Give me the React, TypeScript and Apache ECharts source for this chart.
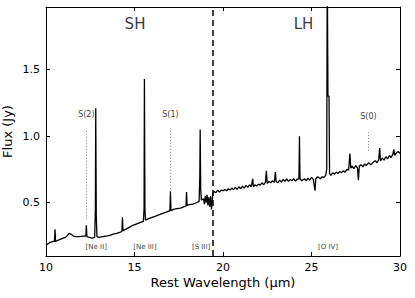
import React, { useEffect, useRef } from "react";
import * as echarts from "echarts";

const wavelength = [
  10.0, 10.2, 10.4, 10.48, 10.51, 10.54, 10.7, 10.9, 11.1, 11.25, 11.3, 11.4, 11.55, 11.7, 11.9, 12.1, 12.25, 12.28, 12.31,
  12.45, 12.6, 12.75, 12.79, 12.81, 12.84, 12.88, 13.0, 13.2, 13.4, 13.6, 13.8, 14.0, 14.2, 14.29, 14.32, 14.35, 14.5,
  14.7, 14.9, 15.1, 15.3, 15.5, 15.54, 15.56, 15.59, 15.62, 15.8, 16.0, 16.2, 16.4, 16.6, 16.8, 17.0, 17.03, 17.06,
  17.2, 17.4, 17.6, 17.8, 17.91, 17.94, 17.97, 18.1, 18.3, 18.5, 18.65, 18.69, 18.71, 18.74, 18.78, 18.9, 18.95, 19.0,
  19.05, 19.1, 19.15, 19.2, 19.25, 19.3, 19.35, 19.4,
  19.42, 19.5, 19.6, 19.7, 19.8, 19.9, 20.0, 20.1, 20.2, 20.3, 20.4, 20.5, 20.6, 20.7, 20.8, 20.9, 21.0, 21.1, 21.2,
  21.3, 21.4, 21.5, 21.6, 21.68, 21.72, 21.8, 21.9, 22.0, 22.1, 22.2, 22.3, 22.4, 22.45, 22.5, 22.6, 22.7, 22.8, 22.9,
  22.96, 23.0, 23.1, 23.2, 23.3, 23.4, 23.5, 23.6, 23.7, 23.8, 23.9, 24.0, 24.1, 24.2, 24.29, 24.32, 24.35, 24.45,
  24.6, 24.7, 24.8, 24.9, 25.0, 25.1, 25.2, 25.24, 25.35, 25.5, 25.6, 25.7, 25.8, 25.86, 25.89, 25.93, 25.99, 26.02,
  26.1, 26.2, 26.3, 26.4, 26.5, 26.6, 26.7, 26.8, 26.9, 27.0, 27.1, 27.17, 27.22, 27.3, 27.4, 27.5, 27.6, 27.65,
  27.7, 27.8, 27.9, 28.0, 28.1, 28.22, 28.35, 28.5, 28.6, 28.7, 28.8, 28.85, 28.9, 29.0, 29.1, 29.2, 29.3, 29.4,
  29.5, 29.6, 29.65, 29.7, 29.8, 29.9, 30.0,
];
const flux = [
  0.18, 0.2, 0.21, 0.21, 0.3, 0.21, 0.22, 0.23, 0.24, 0.26, 0.27, 0.265, 0.25, 0.245, 0.245, 0.25, 0.25, 0.33, 0.245,
  0.24, 0.235, 0.24, 0.45, 1.21, 0.4, 0.245, 0.24, 0.245, 0.25, 0.255, 0.265, 0.27, 0.28, 0.285, 0.39, 0.29, 0.3,
  0.315, 0.33, 0.34, 0.35, 0.36, 0.45, 1.43, 0.45, 0.37, 0.38, 0.39, 0.4, 0.41, 0.42, 0.43, 0.44, 0.585, 0.44,
  0.45, 0.455, 0.46, 0.47, 0.475, 0.58, 0.48, 0.485, 0.49, 0.5, 0.51, 0.7, 1.05, 0.6, 0.52, 0.53, 0.49, 0.55,
  0.5, 0.56, 0.48, 0.54, 0.47, 0.55, 0.45, 0.52,
  0.57, 0.585, 0.575, 0.595, 0.58, 0.595, 0.59, 0.6, 0.59, 0.605, 0.595, 0.61, 0.598, 0.615, 0.6, 0.62, 0.605, 0.625, 0.61,
  0.63, 0.615, 0.635, 0.62, 0.68, 0.62, 0.635, 0.625, 0.64, 0.632, 0.65, 0.635, 0.655, 0.74, 0.645, 0.66, 0.65, 0.665, 0.652,
  0.73, 0.66, 0.65, 0.67, 0.655, 0.675, 0.66, 0.68, 0.66, 0.675, 0.665, 0.68, 0.662, 0.678, 0.68, 1.0, 0.68, 0.665,
  0.68, 0.665, 0.685, 0.67, 0.69, 0.675, 0.59, 0.68, 0.695, 0.68, 0.695, 0.69, 0.705, 0.75, 2.3, 1.3, 1.3, 0.72,
  0.705, 0.725, 0.715, 0.73, 0.72, 0.735, 0.725, 0.74, 0.73, 0.75, 0.745, 0.87, 0.76, 0.775, 0.755, 0.78, 0.76, 0.67,
  0.775, 0.785, 0.77, 0.79, 0.78, 0.8, 0.785, 0.805, 0.815, 0.8, 0.825, 0.91, 0.815, 0.835, 0.82, 0.845, 0.83, 0.855,
  0.84, 0.865, 0.9, 0.855, 0.875, 0.885, 0.87,
];

// H2 lines (dotted markers): wavelength, bottom flux, top flux, label
const h2Names = ["S(2)", "S(1)", "S(0)"];
const h2Wave = [12.28, 17.03, 28.22];
const h2Bottom = [0.38, 0.56, 0.89];
const h2Top = [1.04, 1.05, 1.03];
const h2LabelY = [1.16, 1.16, 1.15];

// Ionic line labels near the bottom
const ionNames = ["[Ne II]", "[Ne III]", "[S III]", "[O IV]"];
const ionWave = [12.84, 15.59, 18.76, 25.93];
const ionLabelY = [0.165, 0.165, 0.165, 0.165];

// Module labels
const moduleNames = ["SH", "LH"];
const moduleWave = [15.03, 24.55];
const moduleY = [1.84, 1.84];
const moduleBoundary = 19.4;

const yTicks = [0.5, 1.0, 1.5];

const FONT = "DejaVu Sans";

export default function App() {
  const ref = useRef<HTMLDivElement>(null);
  useEffect(() => {
    document.body.style.margin = "0";
    const chart = echarts.init(ref.current!, null, { renderer: "svg" });
    const spectrum = wavelength.map((w, i) => [w, flux[i]]);
    const axisCommon = {
      type: "value",
      axisLine: { show: true, onZero: false, lineStyle: { color: "#000", width: 1 } },
      axisTick: { show: true, inside: true, length: 4, lineStyle: { color: "#000" } },
      splitLine: { show: false },
    };
    chart.setOption({
      animation: false,
      backgroundColor: "#fff",
      grid: { left: 46, right: 15, top: 7, bottom: 42, containLabel: false, outerBoundsMode: "none" },
      xAxis: [
        {
          ...axisCommon,
          position: "bottom",
          min: 10,
          max: 30,
          interval: 5,
          name: "Rest Wavelength (\u03bcm)",
          nameLocation: "middle",
          nameGap: 20,
          nameMoveOverlap: false,
          nameTextStyle: { fontFamily: FONT, fontSize: 13, color: "#000" },
          axisLabel: { fontFamily: FONT, fontSize: 11, color: "#000", margin: 6 },
        },
        {
          ...axisCommon,
          position: "top",
          min: 10,
          max: 30,
          interval: 5,
          axisLabel: { show: false },
        },
      ],
      yAxis: [
        {
          ...axisCommon,
          position: "left",
          min: 0.1,
          max: 1.97,
          name: "Flux (Jy)",
          nameLocation: "middle",
          nameGap: 32,
          nameMoveOverlap: false,
          nameTextStyle: { fontFamily: FONT, fontSize: 13, color: "#000" },
          axisTick: { ...axisCommon.axisTick, customValues: yTicks },
          axisLabel: {
            fontFamily: FONT,
            fontSize: 11,
            color: "#000",
            margin: 6,
            customValues: yTicks,
            formatter: (v: number) => v.toFixed(1),
          },
        },
        {
          ...axisCommon,
          position: "right",
          min: 0.1,
          max: 1.97,
          axisTick: { ...axisCommon.axisTick, customValues: yTicks },
          axisLabel: { show: false, customValues: yTicks },
        },
      ],
      series: [
        {
          type: "line",
          data: spectrum,
          showSymbol: false,
          symbol: "none",
          clip: true,
          lineStyle: { color: "#000", width: 1.3 },
          markLine: {
            silent: true,
            symbol: "none",
            label: { show: false },
            data: [
              {
                xAxis: moduleBoundary,
                lineStyle: { color: "#000", width: 1.5, type: [6, 4] },
              },
              ...h2Wave.map((w, i) => [
                { coord: [w, h2Bottom[i]], lineStyle: { color: "#555", width: 0.8, type: [1, 2] } },
                { coord: [w, h2Top[i]] },
              ]),
            ],
          },
        },
        {
          type: "scatter",
          symbolSize: 0,
          silent: true,
          data: h2Wave.map((w, i) => [w, h2LabelY[i], h2Names[i]]),
          label: {
            show: true,
            position: "inside",
            formatter: (p: any) => p.data[2],
            fontFamily: FONT,
            fontSize: 8,
            color: "#000",
          },
        },
        {
          type: "scatter",
          symbolSize: 0,
          silent: true,
          data: ionWave.map((w, i) => [w, ionLabelY[i], ionNames[i]]),
          label: {
            show: true,
            position: "inside",
            formatter: (p: any) => p.data[2],
            fontFamily: FONT,
            fontSize: 7,
            color: "#000",
          },
        },
        {
          type: "scatter",
          symbolSize: 0,
          silent: true,
          data: moduleWave.map((w, i) => [w, moduleY[i], moduleNames[i]]),
          label: {
            show: true,
            position: "inside",
            formatter: (p: any) => p.data[2],
            fontFamily: FONT,
            fontSize: 15,
            color: "#000",
          },
        },
      ],
    });
    return () => chart.dispose();
  }, []);
  return <div ref={ref} style={{ width: 415, height: 298 }} />;
}
